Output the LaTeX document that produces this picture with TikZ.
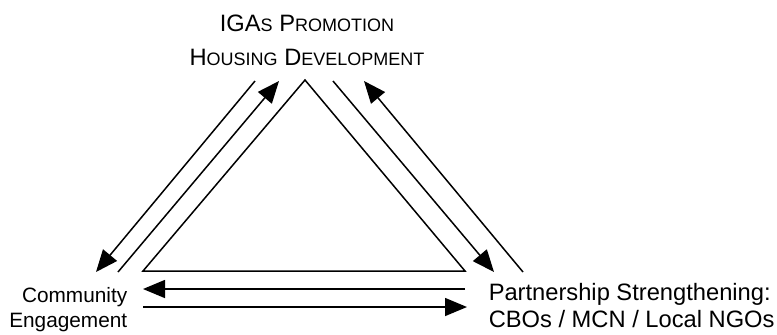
\documentclass[tikz,border=0pt]{standalone}
\usepackage{fontspec}
\setmainfont{Liberation Sans}
\usetikzlibrary{arrows.meta}
\newcommand{\smc}[1]{{\fontsize{9}{10}\selectfont #1}}
\tikzset{flow/.style={-{Triangle[length=11pt,width=9pt]}},
  lbl/.style={inner sep=0pt,font=\fontsize{11.85}{13.5}\selectfont}}

\begin{document}
\begin{tikzpicture}[x=0.5pt,y=-0.5pt,line width=0.75pt]
        \useasboundingbox (0,0) rectangle (777,334);
        % the triangle
        \coordinate (apex) at (305,80);
        \coordinate (bl) at (143,271);
        \coordinate (br) at (465,271);
        \draw (bl) -- (apex) -- (br) -- cycle;
        % left side arrows
        \coordinate (l1) at (255,81); \coordinate (l2) at (96,272);
        \coordinate (l3) at (118,272); \coordinate (l4) at (279,81);
        \draw[flow] (l1) -- (l2);
        \draw[flow] (l3) -- (l4);
        % right side arrows
        \coordinate (r1) at (333,81); \coordinate (r2) at (494,272);
        \coordinate (r3) at (523,272); \coordinate (r4) at (364,81);
        \draw[flow] (r1) -- (r2);
        \draw[flow] (r3) -- (r4);
        % bottom arrows
        \coordinate (b1) at (465,289); \coordinate (b2) at (143,289);
        \coordinate (b3) at (143,307); \coordinate (b4) at (467,307);
        \draw[flow] (b1) -- (b2);
        \draw[flow] (b3) -- (b4);
        % labels (base = baseline of last line)
        \node[lbl,anchor=base,align=center,font=\fontsize{11.85}{17}\selectfont] (igas) at (307,65)
          {IGA\smc{S} P\smc{ROMOTION}\\H\smc{OUSING} D\smc{EVELOPMENT}};
        \node[lbl,anchor=base east,align=right,font=\fontsize{10.4}{12.5}\selectfont] (comm) at (128,327) {Community\\Engagement};
        \node[lbl,anchor=base west,align=left] (partner) at (488,327) {Partnership Strengthening:\\CBOs / MCN / Local NGOs};
\end{tikzpicture}
\end{document}
